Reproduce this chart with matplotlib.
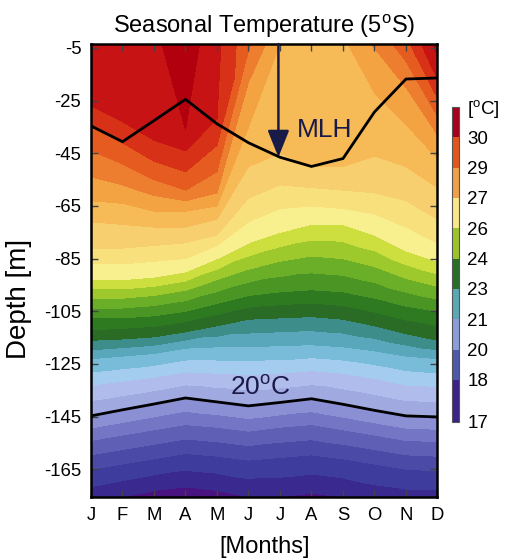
import numpy as np
import matplotlib
matplotlib.use("Agg")
import matplotlib.pyplot as plt
from matplotlib.colors import LinearSegmentedColormap, ListedColormap, BoundaryNorm, Normalize
from matplotlib.tri import Triangulation
import matplotlib.cm as cm

plt.rcParams['font.family'] = ['Liberation Sans', 'DejaVu Sans']
plt.rcParams['mathtext.fontset'] = 'custom'
plt.rcParams['mathtext.rm'] = 'Liberation Sans'
plt.rcParams['axes.unicode_minus'] = False

nan = np.nan

# months on the x axis
month_labels = ['J', 'F', 'M', 'A', 'M', 'J', 'J', 'A', 'S', 'O', 'N', 'D']
months = np.arange(1, 13)

# temperature at the top and bottom of the section [degC]
surface_depth = -3.5
bottom_depth = -175.5
surface_temp = [30.2, 30.25, 30.4, 30.8, 30.13, 29.1, 28.0, 27.8, 27.9, 28.6, 29.3, 30.7]
bottom_temp = [17.2, 17.0, 16.8, 16.7, 16.8, 17.0, 17.0, 16.9, 17.0, 17.2, 17.3, 17.3]

# depth of each isotherm per month [m], nan = isotherm above the surface
iso_30_5 = [nan, nan, nan, -36, nan, nan, nan, nan, nan, nan, nan, -8]
iso_30 = [-27, -33, -40, -44, -32, nan, nan, nan, nan, nan, nan, -17]
iso_29_5 = [-35, -41, -48, -52, -42, nan, nan, nan, nan, nan, nan, -24]
iso_29 = [-44, -49, -55, -59, -52, -6, nan, nan, nan, nan, -10, -31]
iso_28_5 = [-54, -57, -61, -63, -60, -18, nan, nan, nan, -5, -20, -38]
iso_28 = [-63, -64, -67, -67, -65, -35, nan, nan, nan, -22, -34, -47]
iso_27_5 = [-71, -72, -73, -73, -70, -50, -45, -50, -50, -46, -50, -58]
iso_27 = [-81, -81, -80, -79, -76, -62, -57, -58, -59, -60, -63, -70]
iso_26_5 = [-87, -87, -86, -85, -80, -71, -66, -65, -66, -68, -73, -79]
iso_26 = [-93, -93, -92, -90, -85, -79, -75, -72, -72, -76, -82, -86]
iso_25 = [-100, -100, -99, -97, -93, -89, -86, -84, -85, -88, -92.5, -95.5]
iso_24 = [-107.5, -107.5, -106.7, -105, -102, -99, -97.6, -96.8, -97.6, -100, -103, -105]
iso_23 = [-116, -115.5, -114.7, -112.8, -110.5, -108, -107.5, -107, -108, -110.5, -113.5, -116]
iso_22 = [-123, -122, -121, -119, -118.5, -118.5, -118, -117.7, -118.5, -120, -122, -123]
iso_21 = [-133, -131.5, -130, -128, -128.5, -129, -128.5, -127.5, -128.5, -130.5, -133, -133.5]
iso_20 = [-144.7, -142.4, -140.2, -137.9, -139.4, -140.9, -139.6, -138.2, -140.3, -142.6, -144.7, -145.1]
iso_19 = [-154, -152, -150, -148, -149, -150.5, -149, -148, -150, -152, -154, -154.5]
iso_18 = [-165, -163, -161, -159, -160, -161.5, -160.5, -159.5, -161, -163, -165, -165.5]

# mixed layer depth [m]
mlh_depth = [-34.6, -40.6, -32.6, -24.5, -33.8, -41, -46.5, -50, -47, -29.3, -16.8, -16.4]

isotherms = [(30.5, iso_30_5), (30, iso_30), (29.5, iso_29_5), (29, iso_29),
             (28.5, iso_28_5), (28, iso_28), (27.5, iso_27_5), (27, iso_27),
             (26.5, iso_26_5), (26, iso_26), (25, iso_25), (24, iso_24),
             (23, iso_23), (22, iso_22), (21, iso_21), (20, iso_20),
             (19, iso_19), (18, iso_18)]

# colorbar
cbar_bounds = [16.44, 18.44, 19.88, 21.32, 22.76, 24.2, 25.64, 27.08, 28.52, 29.96, 31.4]
cbar_labels = ['17', '18', '20', '21', '23', '24', '26', '27', '29', '30', r'[$^{\rm o}$C]']
cbar_colors = ['#3a2288', '#4c58a8', '#8c9cd8', '#5aa8b4', '#2a6e28',
               '#9cc42a', '#f8e88a', '#f0a048', '#e0561c', '#a8001c']

# colours of the fine contour bands (band mid temperature, colour)
band_colors = [(16.5, '#4a1480'), (16.75, '#4a1480'), (17.25, '#382c90'), (17.75, '#3e3c9c'),
               (18.25, '#4c4ca8'), (18.75, '#6060b6'), (19.25, '#7678c6'), (19.75, '#8c90d4'),
               (20.25, '#a0a8e0'), (20.75, '#b0beec'), (21.25, '#a4ccf0'), (21.75, '#78bcd8'),
               (22.25, '#5aa8bc'), (22.75, '#3c8c8a'), (23.25, '#2a6c26'), (23.75, '#2e7a20'),
               (24.25, '#4a9424'), (24.75, '#6cb028'), (25.25, '#9cc82c'), (25.75, '#cde040'),
               (26.25, '#f8f090'), (26.75, '#f8e07c'), (27.25, '#f8d070'), (27.75, '#f6bc58'),
               (28.25, '#f4a444'), (28.75, '#ee8030'), (29.25, '#e65c20'), (29.75, '#d83418'),
               (30.25, '#c81414'), (30.75, '#b4000e'), (31.25, '#a00010'), (31.5, '#a00010')]
tmin, tmax = 16.5, 31.5
cmap = LinearSegmentedColormap.from_list(
    'sst', [((t - tmin) / (tmax - tmin), c) for t, c in band_colors])
norm = Normalize(tmin, tmax)
levels = np.arange(tmin, tmax + 0.01, 0.5)

# build the section: one column of points per month, joined month to month
xs, ys, zs, cols = [], [], [], []
for m in range(12):
    pts = [(surface_depth, surface_temp[m])]
    for t, d in isotherms:
        if not np.isnan(d[m]):
            pts.append((d[m], t))
    pts.append((bottom_depth, bottom_temp[m]))
    idx = []
    for d, t in pts:
        idx.append(len(xs))
        xs.append(months[m]); ys.append(d); zs.append(t)
    cols.append(idx)

zs = np.array(zs)
triangles = []
for m in range(11):
    a, b = cols[m], cols[m + 1]
    i = j = 0
    while i < len(a) - 1 or j < len(b) - 1:
        if j == len(b) - 1 or (i < len(a) - 1 and zs[a[i + 1]] >= zs[b[j + 1]]):
            triangles.append([a[i], b[j], a[i + 1]]); i += 1
        else:
            triangles.append([a[i], b[j], b[j + 1]]); j += 1
tri = Triangulation(xs, ys, triangles)

fig = plt.figure(figsize=(5.06, 5.59), dpi=100)
ax = fig.add_axes([0.1798, 0.1109, 0.6848, 0.8104])
ax.tricontourf(tri, zs, levels=levels, cmap=cmap, norm=norm)

ax.plot(months, mlh_depth, color='black', lw=2.0, solid_joinstyle='miter')
ax.plot(months, iso_20, color='black', lw=2.0)

navy = '#1a1a48'
ax.annotate('', xy=(6.95, -46.5), xytext=(6.95, -3.5),
            arrowprops=dict(arrowstyle='-|>,head_length=0.55,head_width=0.22',
                            color=navy, lw=1.8, mutation_scale=30,
                            shrinkA=0, shrinkB=0))
ax.text(7.53, -36, 'MLH', color=navy, fontsize=19, ha='left', va='center')
ax.text(6.38, -134, r'20$^{\rm o}$C', color=navy, fontsize=19, ha='center', va='center')

ax.set_xlim(1, 12)
ax.set_ylim(bottom_depth, surface_depth)
ax.set_xticks(months)
ax.set_xticklabels(month_labels)
ax.set_yticks(np.arange(-5, -166, -20))
ax.tick_params(direction='in', length=5, width=1, color='#444444', top=True, right=True,
               labelsize=13.3, pad=7)
for s in ax.spines.values():
    s.set_linewidth(1.8)
ax.set_title(r'Seasonal Temperature (5$^{\rm o}$S)', fontsize=17, pad=8)
ax.set_xlabel('[Months]', fontsize=17, labelpad=9)
ax.set_ylabel('Depth [m]', fontsize=20)
ax.yaxis.set_label_coords(-0.17, 0.437)

cax = fig.add_axes([0.8933, 0.2451, 0.0138, 0.5635])
sm = cm.ScalarMappable(norm=BoundaryNorm(cbar_bounds, len(cbar_colors)),
                       cmap=ListedColormap(cbar_colors))
cb = fig.colorbar(sm, cax=cax, spacing='proportional', ticks=cbar_bounds)
cb.ax.set_yticklabels(cbar_labels)
cb.ax.tick_params(length=0, labelsize=13.5, pad=6)
cb.outline.set_linewidth(0.8)
cb.outline.set_edgecolor('#555555')

fig.savefig('out.png', dpi=100)
